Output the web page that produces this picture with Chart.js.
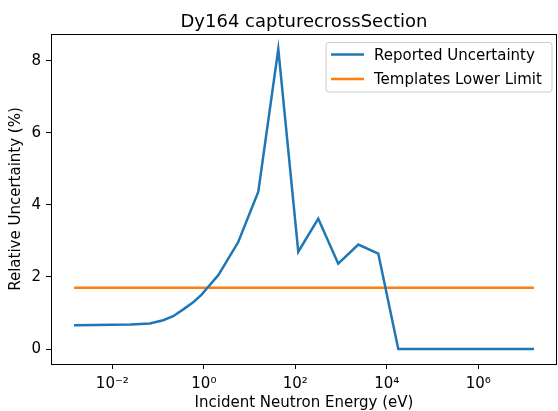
<!DOCTYPE html>
<html>
<head>
<meta charset="utf-8">
<script src="https://cdn.jsdelivr.net/npm/chart.js@4/dist/chart.umd.min.js"></script>
<style>
  html, body { margin: 0; padding: 0; background: #ffffff; }
  #wrap { width: 558px; height: 411px; }
</style>
</head>
<body>
<div id="wrap"><canvas id="c" width="558" height="411"></canvas></div>
<script>
// Incident neutron energies (eV) and reported relative uncertainty (%)
const energies = [1.45e-3, 4.0e-3, 1.0e-2, 2.5e-2, 6.6e-2, 0.129, 0.214, 0.355, 0.586, 0.895,
                  1.25, 2.07, 5.65, 15.5, 42.4, 116, 317, 867, 2380, 6500, 17800, 1.65e7];
const reportedUncertainty = [0.66, 0.665, 0.67, 0.68, 0.71, 0.80, 0.91, 1.10, 1.30, 1.51,
                             1.73, 2.05, 2.97, 4.37, 8.33, 2.70, 3.62, 2.37, 2.90, 2.65, 0, 0];

// Templates lower limit, constant over the whole energy range
const limitEnergies = [1.45e-3, 1.65e7];
const templatesLowerLimit = [1.70, 1.70];

const seriesNames = ['Reported Uncertainty', 'Templates Lower Limit'];
const chartTitle = 'Dy164 capturecrossSection';
const xAxisTitle = 'Incident Neutron Energy (eV)';
const yAxisTitle = 'Relative Uncertainty (%)';

const xTickValues = [1e-2, 1, 1e2, 1e4, 1e6];
const xTickLabels = ['10\u207B\u00B2', '10\u2070', '10\u00B2', '10\u2074', '10\u2076'];
const yTickValues = [0, 2, 4, 6, 8];

const BLUE = '#1f77b4';
const ORANGE = '#ff7f0e';
const FONT = "'DejaVu Sans', sans-serif";

// axis limits with 5% margins around the data (log space for x)
const lx = energies.map(Math.log10);
const xLo = Math.min(...lx), xHi = Math.max(...lx);
const xPad = 0.05 * (xHi - xLo);
const yLo = Math.min(...reportedUncertainty, ...templatesLowerLimit);
const yHi = Math.max(...reportedUncertainty, ...templatesLowerLimit);
const yPad = 0.05 * (yHi - yLo);

const frameAndDecor = {
  id: 'frameAndDecor',
  afterDatasetsDraw(chart) {
    const { ctx, chartArea: a } = chart;
    ctx.save();
    ctx.strokeStyle = '#000';
    ctx.lineWidth = 1;
    ctx.strokeRect(a.left + 0.5, a.top + 0.5, a.right - a.left - 1, a.bottom - a.top);
    ctx.restore();
  },
  afterDraw(chart) {
    const { ctx, chartArea: a } = chart;
    ctx.save();
    // title
    ctx.fillStyle = '#000';
    ctx.font = '18px ' + FONT;
    ctx.textAlign = 'center';
    ctx.textBaseline = 'alphabetic';
    ctx.fillText(chartTitle, (a.left + a.right) / 2, 27);

    // legend
    const bx = 326, by = 42.5, bw = 226, bh = 49.5, r = 3;
    ctx.beginPath();
    ctx.roundRect(bx, by, bw, bh, r);
    ctx.fillStyle = 'rgba(255,255,255,0.8)';
    ctx.fill();
    ctx.strokeStyle = '#cccccc';
    ctx.lineWidth = 1;
    ctx.stroke();

    ctx.font = '15px ' + FONT;
    ctx.textAlign = 'left';
    const rows = [59.5, 84];
    chart.data.datasets.forEach((ds, i) => {
      const base = rows[i];
      ctx.beginPath();
      ctx.moveTo(331, base - 5);
      ctx.lineTo(364, base - 5);
      ctx.strokeStyle = ds.borderColor;
      ctx.lineWidth = 2.5;
      ctx.stroke();
      ctx.fillStyle = '#000';
      ctx.fillText(ds.label, 374, base);
    });
    ctx.restore();
  }
};

new Chart(document.getElementById('c'), {
  type: 'line',
  data: {
    datasets: [
      {
        label: seriesNames[0],
        data: energies.map((e, i) => ({ x: e, y: reportedUncertainty[i] })),
        borderColor: BLUE,
        borderWidth: 2.5,
        pointRadius: 0,
        tension: 0,
        fill: false
      },
      {
        label: seriesNames[1],
        data: limitEnergies.map((e, i) => ({ x: e, y: templatesLowerLimit[i] })),
        borderColor: ORANGE,
        borderWidth: 2.5,
        pointRadius: 0,
        tension: 0,
        fill: false
      }
    ]
  },
  options: {
    responsive: false,
    animation: false,
    devicePixelRatio: 1,
    layout: { padding: { left: 0, right: 1, top: 34, bottom: 0 } },
    plugins: {
      legend: { display: false },
      title: { display: false },
      tooltip: { enabled: false }
    },
    scales: {
      x: {
        type: 'logarithmic',
        position: 'bottom',
        min: Math.pow(10, xLo - xPad),
        max: Math.pow(10, xHi + xPad),
        afterBuildTicks(scale) { scale.ticks = xTickValues.map(v => ({ value: v })); },
        afterFit(scale) { scale.height = 47; },
        border: { display: false },
        grid: { display: true, drawOnChartArea: false, drawTicks: true, tickLength: 5, color: '#000', lineWidth: 1 },
        ticks: {
          autoSkip: false, maxRotation: 0, minRotation: 0, padding: 6,
          color: '#000', font: { family: FONT, size: 15 },
          callback(value) { const k = xTickValues.indexOf(value); return k >= 0 ? xTickLabels[k] : ''; }
        },
        title: {
          display: true, text: xAxisTitle, color: '#000',
          font: { family: FONT, size: 15, lineHeight: 1 }, padding: { top: 0, bottom: 0 }
        }
      },
      y: {
        type: 'linear',
        position: 'left',
        min: yLo - yPad,
        max: yHi + yPad,
        afterBuildTicks(scale) { scale.ticks = yTickValues.map(v => ({ value: v })); },
        afterFit(scale) { scale.width = 51; },
        border: { display: false },
        grid: { display: true, drawOnChartArea: false, drawTicks: true, tickLength: 5, color: '#000', lineWidth: 1 },
        ticks: {
          autoSkip: false, padding: 5,
          color: '#000', font: { family: FONT, size: 15 },
          callback(value) { return String(value); }
        },
        title: {
          display: true, text: yAxisTitle, color: '#000',
          font: { family: FONT, size: 15, lineHeight: 1 }, padding: { top: 9, bottom: 0 }
        }
      }
    }
  },
  plugins: [frameAndDecor]
});
</script>
</body>
</html>
